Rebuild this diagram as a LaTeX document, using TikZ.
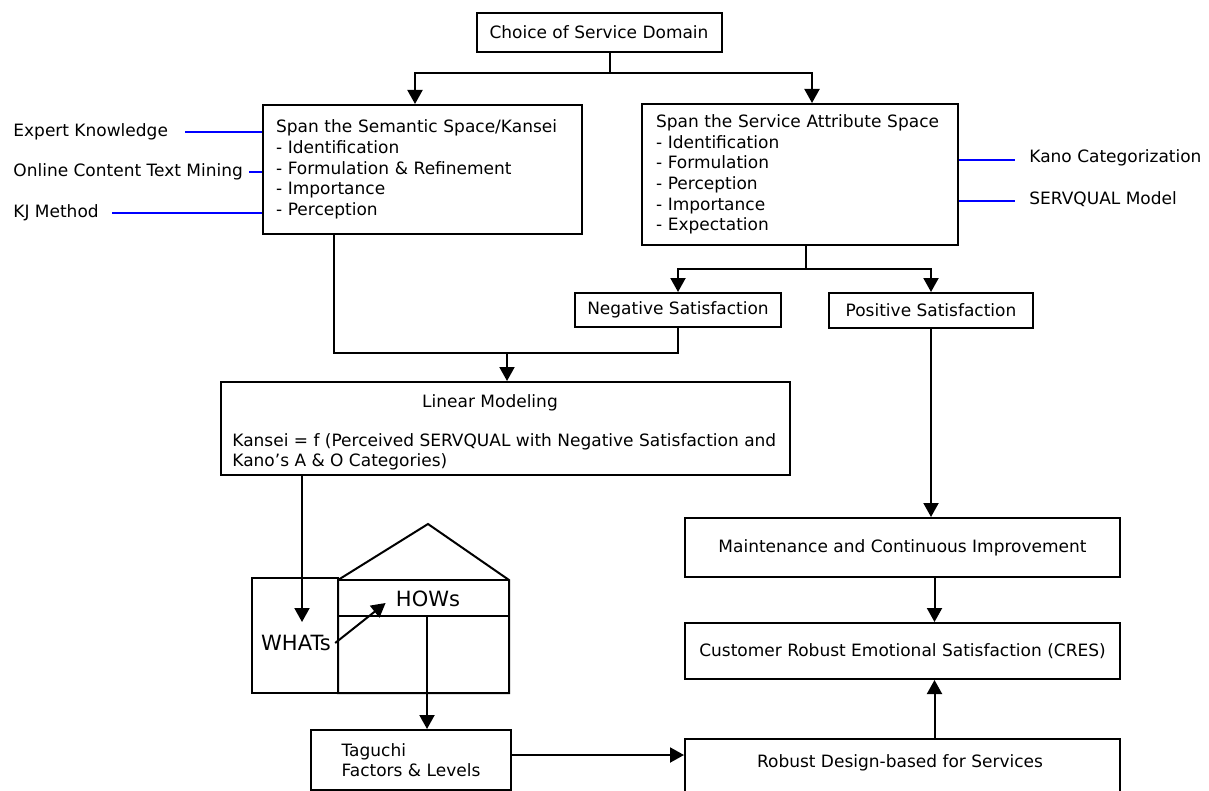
\documentclass[tikz,border=0pt]{standalone}
\usepackage{fontspec}
\setmainfont{DejaVu Sans}
\usetikzlibrary{arrows.meta}
\tikzset{
    box/.style={draw, line width=1pt, inner sep=0pt},
    link/.style={line width=1pt},
    arr/.style={line width=1pt, -{Triangle[length=7pt,width=7.5pt]}},
    source/.style={draw=blue, line width=0.8pt},
    lbl/.style={inner sep=0pt, font=\fontsize{8.5}{10.3}\selectfont},
    txt/.style={font=\fontsize{8.5}{10.3}\selectfont},
    hq/.style={font=\fontsize{10.5}{12}\selectfont, inner sep=2pt},
}
\begin{document}
\begin{tikzpicture}[x=0.5pt, y=-0.5pt]
    \useasboundingbox (0,0) rectangle (1209,791);
    % upper part
    \node[box, txt, minimum width=122.5pt, minimum height=19.5pt] (choice) at (599,32.5) {Choice of Service Domain};
    \node[box, txt, minimum width=159.5pt, minimum height=64.5pt, text width=146.5pt, align=left] (semantic) at (422.5,169.5)
        {Span the Semantic Space/Kansei\\- Identification\\- Formulation \& Refinement\\- Importance\\- Perception};
    \node[box, txt, minimum width=158pt, minimum height=70.5pt, text width=144pt, align=left] (attribute) at (800,174.5)
        {Span the Service Attribute Space\\- Identification\\- Formulation\\- Perception\\- Importance\\- Expectation};
    \node[lbl, anchor=west] (expert) at (13,132) {Expert Knowledge};
    \node[lbl, anchor=west] (online) at (13,172) {Online Content Text Mining};
    \node[lbl, anchor=west] (kj) at (13,213) {KJ Method};
    \node[lbl, anchor=west] (kano) at (1029,158) {Kano Categorization};
    \node[lbl, anchor=west] (servqual) at (1029,199) {SERVQUAL Model};
    \foreach \n/\g in {expert/8.5pt, online/3pt, kj/6.5pt} {
        \draw[source] ([xshift=\g]\n.east) -- (\n.east -| semantic.west);
    }
    \foreach \n in {kano, servqual} {
        \draw[source] ([yshift=-1pt]\n.west -| attribute.east) -- ([xshift=-7pt,yshift=-1pt]\n.west);
    }
    \coordinate (fork1) at (610,73);
    \draw[link] (choice.south -| fork1) -- (fork1);
    \draw[arr] (fork1) -| ([xshift=-3.75pt]semantic.north);
    \draw[arr] (fork1) -| ([xshift=6pt]attribute.north);

    \node[box, txt, minimum width=103pt, minimum height=17pt] (negative) at (678,310) {Negative Satisfaction};
    \node[box, txt, minimum width=102pt, minimum height=17.5pt] (positive) at (931,310.5) {Positive Satisfaction};
    \coordinate (fork2) at (806,269);
    \draw[link] (fork2 |- attribute.south) -- (fork2);
    \draw[arr] (fork2) -| (negative.north);
    \draw[arr] (fork2) -| (positive.north);

    % linear model
    \node[box, minimum width=284.5pt, minimum height=46.5pt] (linear) at (505.5,428.5) {};
    \node[txt] (lintitle) at (490,403) {Linear Modeling};
    \node[txt, inner sep=0pt, anchor=west, align=left] (linformula) at (232,452)
        {Kansei = f (Perceived SERVQUAL with Negative Satisfaction and\\Kano’s A \& O Categories)};
    \coordinate (merge) at (507,353);
    \draw[link] ([xshift=-44.25pt]semantic.south) |- (merge) -| (negative.south);
    \draw[arr] (merge) -- (merge |- linear.north);

    % house of quality
    \draw[link] (252,578) rectangle (338,693);
    \draw[link] (338,693) -- (338,580) -- (428,524) -- (509,580) -- (509,693) -- cycle;
    \draw[link] (338,580) -- (509,580);
    \draw[link] (338,616) -- (509,616);
    \node[hq] (whats) at (296,643) {WHATs};
    \node[hq] (hows) at (428,599) {HOWs};
    \draw[arr] (linear.south -| 302,0) -- (302,622);
    \draw[arr] (whats.east) -- ([xshift=-3pt,yshift=-2pt]hows.west);
    \coordinate (howsbase) at (427,616);

    % lower part
    \node[box, txt, align=left, minimum width=100pt, minimum height=30pt] (taguchi) at (411,760) {Taguchi\\Factors \& Levels};
    \node[box, minimum width=217.5pt, minimum height=34pt, anchor=north] (robust) at (902.5,738) {};
    \node[txt] (robusttext) at (900,763) {Robust Design-based for Services};
    \node[box, txt, minimum width=217.5pt, minimum height=28pt] (cres) at (902.5,651) {Customer Robust Emotional Satisfaction (CRES)};
    \node[box, txt, minimum width=217.5pt, minimum height=29.5pt] (maint) at (902.5,547.5) {Maintenance and Continuous Improvement};
    \draw[arr] (howsbase) -- (howsbase |- taguchi.north);
    \draw[arr] ([yshift=2.5pt]taguchi.east) -- ([yshift=2.5pt]taguchi.east -| robust.west);
    \draw[arr] (positive.south) -- (positive.south |- maint.north);
    \draw[arr] ([xshift=16pt]maint.south) -- ([xshift=16pt]cres.north);
    \draw[arr] ([xshift=16pt]robust.north) -- ([xshift=16pt]cres.south);
\end{tikzpicture}
\end{document}
